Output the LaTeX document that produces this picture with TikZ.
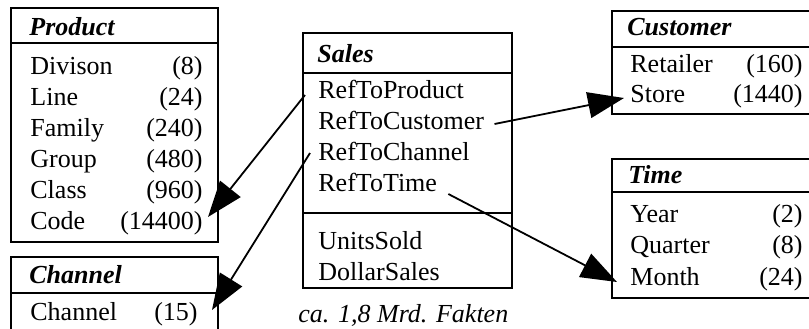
\documentclass[tikz,border=0pt]{standalone}
\usepackage{fontspec}
\setmainfont{Liberation Serif}
\usetikzlibrary{arrows.meta, positioning}

\tikzset{
  tab/.style = {draw, line width=1pt},
  row/.style = {anchor=base west, inner sep=0pt, font=\fontsize{13}{15}\selectfont},
  num/.style = {anchor=base east, inner sep=0pt, font=\fontsize{13}{15}\selectfont},
  head/.style = {row, font=\fontsize{13}{15}\selectfont\bfseries\itshape},
  ref/.style = {line width=0.9pt, -{Triangle[length=18pt, width=13pt]}}
}

\begin{document}
\begin{tikzpicture}[x=0.5pt, y=-0.5pt]
   \useasboundingbox (0,0) rectangle (809,328);
   \clip (0,0) rectangle (809,328);

   % Product
   \draw[tab] (11,8) rectangle (218,242);
   \draw[tab] (11,43) -- (218,43);
   \node[head] (prod) at (29,35) {Product};
   \node[row] (div)    at (30,74)  {Divison};  \node[num] (divn)    at (203,74)  {(8)};
   \node[row] (line)   at (30,105) {Line};     \node[num] (linen)   at (203,105) {(24)};
   \node[row] (family) at (30,136) {Family};   \node[num] (familyn) at (203,136) {(240)};
   \node[row] (group)  at (30,167) {Group};    \node[num] (groupn)  at (203,167) {(480)};
   \node[row] (class)  at (30,198) {Class};    \node[num] (classn)  at (203,198) {(960)};
   \node[row] (code)   at (30,229) {Code};     \node[num] (coden)   at (203,229) {(14400)};

   % Channel
   \draw[tab] (11,257) rectangle (218,345);
   \draw[tab] (11,293) -- (218,293);
   \node[head] (chan) at (29,283) {Channel};
   \node[row] (chanrow) at (30,320) {Channel}; \node[num] (chann) at (198,320) {(15)};

   % Sales
   \draw[tab] (303,33) rectangle (512,288);
   \draw[tab] (303,73) -- (512,73);
   \draw[tab] (303,213) -- (512,213);
   \node[head] (sales) at (317,62) {Sales};
   \node[row] (rprod)  at (318,98)  {RefToProduct};
   \node[row] (rcust)  at (318,129) {RefToCustomer};
   \node[row] (rchan)  at (318,160) {RefToChannel};
   \node[row] (rtime)  at (318,191) {RefToTime};
   \node[row] (units)  at (318,249) {UnitsSold};
   \node[row] (dollar) at (318,280) {DollarSales};
   \node[row, font=\fontsize{13}{15}\selectfont\itshape] (facts) at (298,322) {ca. 1,8 Mrd. Fakten};

   % Customer
   \draw[tab] (612,11) rectangle (830,114);
   \draw[tab] (612,47) -- (830,47);
   \node[head] (cust) at (627,35) {Customer};
   \node[row] (retail) at (630,72)  {Retailer}; \node[num] (retailn) at (803,72)  {(160)};
   \node[row] (store)  at (630,102) {Store};    \node[num] (storen)  at (803,102) {(1440)};

   % Time
   \draw[tab] (612,159) rectangle (830,298);
   \draw[tab] (612,192) -- (830,192);
   \node[head] (time) at (628,183) {Time};
   \node[row] (year)    at (630,222) {Year};    \node[num] (yearn)    at (803,222) {(2)};
   \node[row] (quarter) at (630,253) {Quarter}; \node[num] (quartern) at (803,253) {(8)};
   \node[row] (month)   at (630,285) {Month};   \node[num] (monthn)   at (803,285) {(24)};

   % references
   \draw[ref] ([shift={(-13,-3)}]rprod.base west) -- ([shift={(5,-12)}]coden.base east);
   \draw[ref] ([shift={(-8,-7)}]rchan.base west) -- ([shift={(14,-10)}]chann.base east);
   \draw[ref] ([shift={(10,-5)}]rcust.base east) -- ([shift={(-6,-4)}]store.base west);
   \draw[ref] ([shift={(11,3)}]rtime.base east) -- ([shift={(-13,-3)}]month.base west);
\end{tikzpicture}
\end{document}
